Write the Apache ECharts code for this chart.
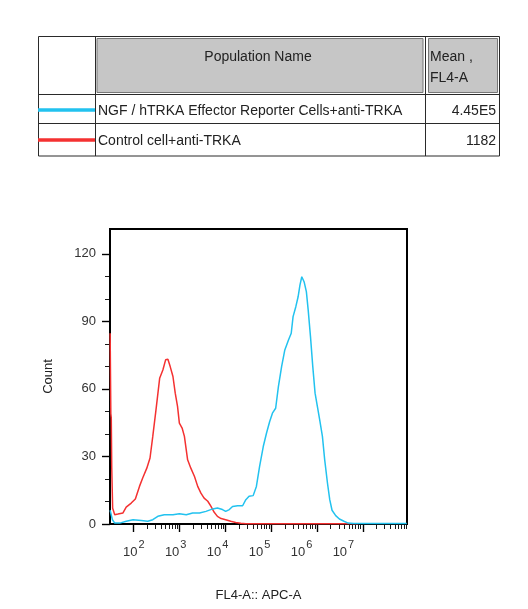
<!DOCTYPE html>
<html>
<head>
<meta charset="utf-8">
<script src="https://cdn.jsdelivr.net/npm/echarts@6/dist/echarts.min.js"></script>
<style>
  html, body { margin: 0; padding: 0; background: #fff; }
  #main { width: 528px; height: 609px; }
</style>
</head>
<body>
<div id="main"></div>
<script>
// table rows
var populations = ['NGF / hTRKA Effector Reporter Cells+anti-TRKA', 'Control cell+anti-TRKA'];
var means = ['4.45E5', '1182'];
var colors = ['#22c2ef', '#f43131'];

// axis ticks (x in log10 units)
var decades = [2, 3, 4, 5, 6, 7];
var yTicks = [0, 30, 60, 90, 120];
var yMinorTicks = [10, 20, 40, 50, 70, 80, 100, 110];

// histogram traces, x = log10(FL4-A), y = count
var blueLogX = [1.49, 1.54, 1.59, 1.70, 1.84, 1.99, 2.17, 2.31, 2.42, 2.53, 2.67, 2.86, 3.00, 3.15, 3.29, 3.44, 3.58, 3.73, 3.83, 3.94,
  4.01, 4.09, 4.16, 4.27, 4.38, 4.45, 4.52, 4.61, 4.68, 4.75, 4.83, 4.90, 4.97, 5.03, 5.10, 5.16, 5.23, 5.30, 5.38, 5.44,
  5.48, 5.54, 5.59, 5.63, 5.67, 5.72, 5.77, 5.81, 5.86, 5.91, 5.96, 6.01, 6.06, 6.12, 6.17, 6.23, 6.28, 6.33, 6.41, 6.49,
  6.59, 6.68, 6.80, 7.20, 7.60, 7.96];
var blueCount = [6.1, 1.9, 0.4, 0.4, 1.2, 1.9, 1.6, 1.2, 1.9, 3.4, 4.1, 4.1, 4.6, 4.1, 4.9, 4.9, 5.6, 6.7, 7.1, 6.4,
  5.6, 6.4, 7.8, 8.1, 8.1, 10.8, 12.3, 12.6, 16.7, 25.6, 34.4, 40.3, 45.5, 49.2, 51.4, 61.0, 69.9, 77.3, 81.7, 84.7,
  92.1, 96.5, 100.9, 106.1, 109.8, 107.6, 103.2, 95.0, 83.2, 69.9, 58.1, 52.2, 46.3, 38.9, 28.5, 18.2, 10.8, 6.1, 3.7, 2.2,
  1.2, 0.4, 0.2, 0.2, 0.2, 0.2];
var redLogX = [1.490, 1.505, 1.515, 1.525, 1.545, 1.59, 1.66, 1.77, 1.84, 1.95, 2.04, 2.13, 2.20, 2.29, 2.36, 2.42, 2.49, 2.57, 2.64, 2.70,
  2.75, 2.80, 2.86, 2.91, 2.96, 3.00, 3.06, 3.11, 3.18, 3.25, 3.33, 3.40, 3.47, 3.54, 3.62, 3.69, 3.76, 3.83, 3.91, 4.01,
  4.12, 4.23, 4.34, 4.45, 5.00, 6.00, 6.90];
var redCount = [84.7, 49.0, 47.0, 25.0, 7.0, 4.1, 4.4, 4.9, 7.5, 9.3, 11.1, 16.7, 20.4, 24.8, 29.3, 38.9, 50.7, 64.7, 68.4, 72.9,
  73.2, 69.9, 65.5, 58.1, 52.2, 44.8, 42.6, 38.9, 28.5, 24.8, 21.1, 16.7, 13.7, 11.5, 10.1, 7.8, 5.2, 3.4, 2.4, 1.9,
  1.2, 0.7, 0.3, 0.1, 0.1, 0.1, 0.1];

function zip(xs, ys) {
  return xs.map(function (x, i) { return [x, ys[i]]; });
}

// log-spaced minor ticks 2..9 inside each decade
var xMinorTicks = [];
for (var d = 2; d < 8; d++) {
  for (var k = 2; k <= 9; k++) xMinorTicks.push(d + Math.log10(k));
}

var font = 'Liberation Sans, Arial, sans-serif';
var line = { stroke: '#2a2a2a', lineWidth: 1 };

var tableEls = [
  { type: 'rect', shape: { x: 97, y: 38.5, width: 326, height: 54 }, style: { fill: '#c6c6c6', stroke: '#777', lineWidth: 1 } },
  { type: 'rect', shape: { x: 428.5, y: 38.5, width: 69, height: 54 }, style: { fill: '#c6c6c6', stroke: '#777', lineWidth: 1 } },
  { type: 'rect', shape: { x: 38.5, y: 36.5, width: 461, height: 119.5 }, style: { fill: null, stroke: '#2a2a2a', lineWidth: 1 } },
  { type: 'line', shape: { x1: 95.5, y1: 36.5, x2: 95.5, y2: 156 }, style: line },
  { type: 'line', shape: { x1: 425.5, y1: 36.5, x2: 425.5, y2: 156 }, style: line },
  { type: 'line', shape: { x1: 38.5, y1: 94.5, x2: 499.5, y2: 94.5 }, style: line },
  { type: 'line', shape: { x1: 38.5, y1: 123.5, x2: 499.5, y2: 123.5 }, style: line },
  { type: 'text', style: { text: 'Population Name', x: 258, y: 57, font: '14px ' + font, fill: '#222', textAlign: 'center', textVerticalAlign: 'middle' } },
  { type: 'text', style: { text: 'Mean ,', x: 430, y: 57, font: '14px ' + font, fill: '#222', textAlign: 'left', textVerticalAlign: 'middle' } },
  { type: 'text', style: { text: 'FL4-A', x: 430, y: 78, font: '14px ' + font, fill: '#222', textAlign: 'left', textVerticalAlign: 'middle' } }
];
var rowY = [110, 140];
populations.forEach(function (name, i) {
  tableEls.push({ type: 'line', shape: { x1: 38, y1: rowY[i], x2: 95, y2: rowY[i] }, style: { stroke: colors[i], lineWidth: 3.5 } });
  tableEls.push({ type: 'text', style: { text: name, x: 98, y: rowY[i] + 1, font: '14px ' + font, fill: '#222', textAlign: 'left', textVerticalAlign: 'middle' } });
  tableEls.push({ type: 'text', style: { text: means[i], x: 496, y: rowY[i] + 1, font: '14px ' + font, fill: '#222', textAlign: 'right', textVerticalAlign: 'middle' } });
});

var xMin = 1.487, xMax = 7.965;

var myChart = echarts.init(document.getElementById('main'));
var option = {
  animation: false,
  backgroundColor: '#fff',
  graphic: { elements: tableEls },
  grid: { left: 110, top: 229, width: 297, height: 295, show: true, borderColor: '#000', borderWidth: 2 },
  xAxis: [
    {
      type: 'value', min: xMin, max: xMax, position: 'bottom', offset: 0,
      name: 'FL4-A:: APC-A', nameLocation: 'middle', nameGap: 65,
      nameTextStyle: { fontSize: 13, color: '#222', fontFamily: font },
      axisLine: { show: false, onZero: false },
      axisTick: { show: true, inside: false, customValues: decades, length: 8, lineStyle: { color: '#000', width: 1.4 } },
      axisLabel: { show: false },
      splitLine: { show: false }
    },
    {
      type: 'value', min: xMin, max: xMax, position: 'bottom', offset: 0,
      axisLine: { show: false, onZero: false },
      axisTick: { show: true, inside: false, customValues: xMinorTicks, length: 5, lineStyle: { color: '#000', width: 0.9 } },
      axisLabel: { show: false },
      splitLine: { show: false }
    },
    {
      // decade labels drift left of the ticks in the original export
      type: 'value', min: 1.434, max: 8.516, position: 'bottom', offset: 0,
      axisLine: { show: false, onZero: false },
      axisTick: { show: false },
      splitLine: { show: false },
      axisLabel: {
        customValues: decades, margin: 15,
        formatter: function (v) { return '{b|10}{e|' + v + '}'; },
        rich: {
          b: { fontSize: 13, fontFamily: font, color: '#333', verticalAlign: 'bottom', lineHeight: 20 },
          e: { fontSize: 11, fontFamily: font, color: '#333', verticalAlign: 'top', lineHeight: 20, padding: [0, 0, 0, 1] }
        }
      }
    }
  ],
  yAxis: [
    {
      type: 'value', min: 0, max: 131, position: 'left', offset: 0,
      name: 'Count', nameLocation: 'middle', nameGap: 55, nameRotate: 90,
      nameTextStyle: { fontSize: 13, color: '#222', fontFamily: font },
      axisLine: { show: false, onZero: false },
      axisTick: { show: true, inside: false, customValues: yTicks, length: 8, lineStyle: { color: '#000', width: 1.4 } },
      axisLabel: { customValues: yTicks, fontSize: 13, color: '#333', fontFamily: font, margin: 14 },
      splitLine: { show: false }
    },
    {
      type: 'value', min: 0, max: 131, position: 'left', offset: 0,
      axisLine: { show: false, onZero: false },
      axisTick: { show: true, inside: false, customValues: yMinorTicks, length: 5, lineStyle: { color: '#000', width: 0.9 } },
      axisLabel: { show: false },
      splitLine: { show: false }
    }
  ],
  series: [
    { name: populations[1], type: 'line', data: zip(redLogX, redCount), showSymbol: false, lineStyle: { color: colors[1], width: 1.5 }, itemStyle: { color: colors[1] }, z: 3 },
    { name: populations[0], type: 'line', data: zip(blueLogX, blueCount), showSymbol: false, lineStyle: { color: colors[0], width: 1.5 }, itemStyle: { color: colors[0] }, z: 4 }
  ]
};
myChart.setOption(option);
</script>
</body>
</html>
